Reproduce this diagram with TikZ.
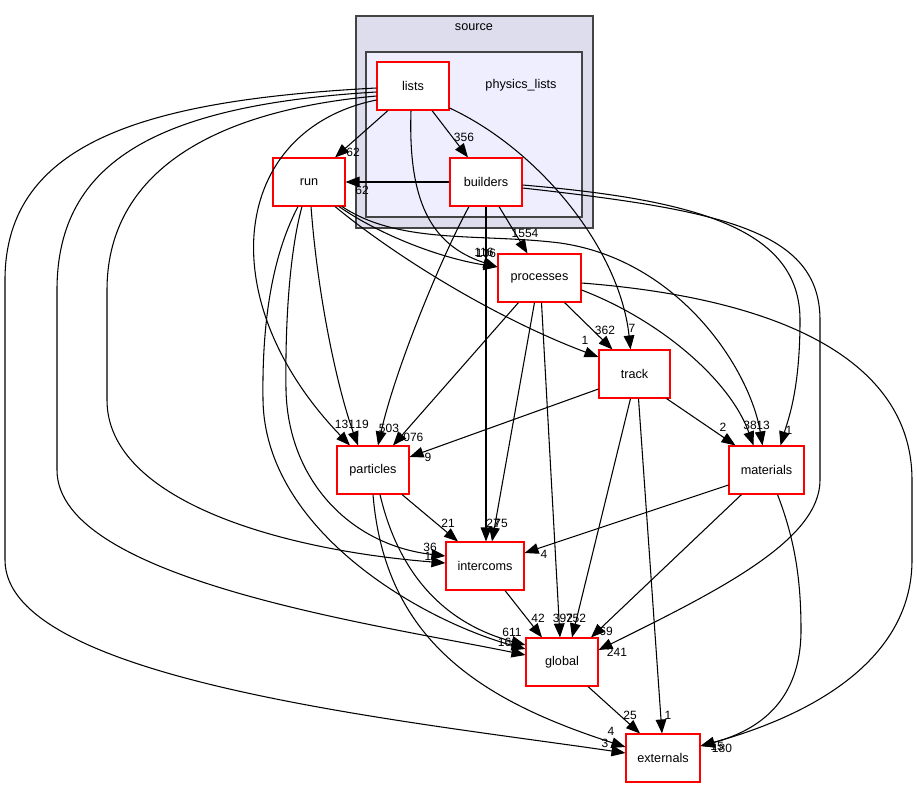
\documentclass[tikz,border=0pt]{standalone}
\usepackage{fontspec}
\setmainfont{Liberation Sans}
\usetikzlibrary{arrows.meta,calc}
\definecolor{srcfill}{RGB}{221,221,238}
\definecolor{plfill}{RGB}{238,238,255}
\definecolor{clborder}{RGB}{68,68,68}
\begin{document}
\begin{tikzpicture}[x=0.75pt,y=-0.75pt,
  dirbox/.style={draw=red, fill=white, line width=0.8pt, minimum height=36pt, minimum width=54pt, inner sep=0pt, font=\fontsize{9.5}{11}\selectfont},
  cl/.style={draw=clborder, line width=1.4pt},
  cltext/.style={inner sep=0pt, font=\fontsize{9.5}{11}\selectfont},
  e/.style={draw=black, line width=0.8pt, -{Triangle[length=10.5pt,width=8pt]}},
  lab/.style={inner sep=0pt, font=\fontsize{9}{10}\selectfont}]
\useasboundingbox (0,0) rectangle (917,788);
\fill[white] (0,0) rectangle (917,788);
% clusters
\draw[cl, fill=srcfill] (356,16) rectangle (593,228);
\node[cltext] (srclab) at (474,27) {source};
\draw[cl, fill=plfill] (366,52) rectangle (582,217);
\node[cltext] (pllab) at (521,85) {physics\_lists};
% nodes
\node[dirbox] (lists) at (413,86) {lists};
\node[dirbox] (builders) at (486,182) {builders};
\node[dirbox] (run) at (309,182) {run};
\node[dirbox, minimum width=62.25pt] (processes) at (539.5,278) {processes};
\node[dirbox, minimum width=53.25pt] (track) at (634.5,374) {track};
\node[dirbox] (particles) at (373,470) {particles};
\node[dirbox, minimum width=56.25pt] (materials) at (766.5,470) {materials};
\node[dirbox, minimum width=58.5pt] (intercoms) at (485,566) {intercoms};
\node[dirbox] (global) at (562,662) {global};
\node[dirbox, minimum width=55.5pt] (externals) at (663,758) {externals};
% lists
\draw[e] ($(lists.south)+(-25,0)$) -- ($(run.north)+(26,0)$);
\draw[e] ($(lists.south)+(19,0)$) -- ($(builders.north)+(-18,0)$);
\draw[e] ($(lists.south)+(-2,0)$) .. controls (408,200) and (430,245) .. ($(processes.west)+(0,-11)$);
\draw[e] ($(lists.east)+(0,22)$) .. controls (540,150) and (620,250) .. ($(track.north)+(-4,0)$);
\draw[e] ($(lists.west)+(0,2)$) .. controls (150,100) and (5,140) .. (5,280) -- (5,560) .. controls (5,680) and (400,720) .. ($(externals.west)+(0,-5)$);
\draw[e] ($(lists.west)+(0,6)$) .. controls (160,105) and (57,160) .. (57,290) -- (57,470) .. controls (57,580) and (380,625) .. ($(global.west)+(0,-7)$);
\draw[e] ($(lists.west)+(0,10)$) .. controls (200,112) and (107,180) .. (107,290) -- (107,400) .. controls (107,500) and (280,550) .. ($(intercoms.west)+(0,-3)$);
\draw[e] ($(lists.west)+(0,14)$) .. controls (230,130) and (210,300) .. ($(particles.north)+(-23,0)$);
% builders
\draw[e] (builders.west) -- (run.east);
\draw[e] ($(builders.south)+(13,0)$) -- ($(processes.north)+(-12,0)$);
\draw[e] ($(builders.south)+(-17,0)$) .. controls (440,260) and (395,370) .. ($(particles.north)+(5,0)$);
\draw[e] (builders.south) -- ($(intercoms.north)+(1,0)$);
\draw[e] ($(builders.east)+(0,3)$) .. controls (700,200) and (800,230) .. (800,320) .. controls (800,390) and (788,420) .. ($(materials.north)+(14,0)$);
\draw[e] ($(builders.east)+(0,6)$) .. controls (720,210) and (820,230) .. (820,320) -- (820,480) .. controls (820,540) and (720,590) .. ($(global.east)+(0,-12)$);
% run
\draw[e] ($(run.south)+(30,0)$) .. controls (380,235) and (440,258) .. ($(processes.west)+(0,-11)$);
\draw[e] ($(run.south)+(26,0)$) .. controls (400,260) and (500,320) .. ($(track.west)+(0,-17)$);
\draw[e] ($(run.south)+(33,0)$) .. controls (400,245) and (480,233) .. (560,243) .. controls (680,260) and (750,370) .. ($(materials.north)+(-4,0)$);
\draw[e] ($(run.south)+(2,0)$) .. controls (318,300) and (338,390) .. ($(particles.north)+(-15,0)$);
\draw[e] ($(run.south)+(-7,0)$) .. controls (290,250) and (285,320) .. (286,390) .. controls (288,480) and (350,545) .. ($(intercoms.west)+(0,-10)$);
\draw[e] ($(run.south)+(-11,0)$) .. controls (270,260) and (262,330) .. (263,400) .. controls (265,530) and (420,620) .. ($(global.west)+(0,-13)$);
% processes
\draw[e] ($(processes.south)+(25,0)$) -- ($(track.north)+(-22,0)$);
\draw[e] ($(processes.east)+(0,12)$) .. controls (660,320) and (730,380) .. ($(materials.north)+(-13,0)$);
\draw[e] ($(processes.east)+(0,5)$) .. controls (800,300) and (912,370) .. (912,480) -- (912,560) .. controls (912,650) and (830,710) .. ($(externals.east)+(0,-12)$);
\draw[e] ($(processes.south)+(-21,0)$) -- ($(particles.north)+(20,0)$);
\draw[e] ($(processes.south)+(-5,0)$) -- ($(intercoms.north)+(7,0)$);
\draw[e] ($(processes.south)+(2,0)$) -- ($(global.north)+(-2,0)$);
% track
\draw[e] ($(track.west)+(0,15)$) -- ($(particles.east)+(0,-13)$);
\draw[e] ($(track.south)+(32,0)$) -- ($(materials.north)+(-31,0)$);
\draw[e] ($(track.south)+(-4,0)$) -- ($(global.north)+(10,0)$);
\draw[e] ($(track.south)+(4,0)$) -- ($(externals.north)+(-1,0)$);
% materials
\draw[e] ($(materials.west)+(0,15)$) -- ($(intercoms.east)+(0,-13)$);
\draw[e] ($(materials.south)+(-25,0)$) -- ($(global.north)+(29,0)$);
\draw[e] ($(materials.south)+(11,0)$) .. controls (795,540) and (801,580) .. (801,630) .. controls (801,700) and (760,730) .. ($(externals.east)+(0,-12)$);
% particles
\draw[e] ($(particles.south)+(29,0)$) -- ($(intercoms.north)+(-27,0)$);
\draw[e] ($(particles.south)+(7,0)$) .. controls (400,580) and (450,625) .. ($(global.west)+(0,-17)$);
\draw[e] (particles.south) .. controls (385,640) and (480,700) .. ($(externals.west)+(0,-11)$);
% intercoms, global
\draw[e] ($(intercoms.south)+(20,0)$) -- ($(global.north)+(-20,0)$);
\draw[e] ($(global.south)+(26,0)$) -- ($(externals.north)+(-23,0)$);
% labels
\node[lab] (l1) at (353,152) {62};
\node[lab] (l2) at (464,137) {356};
\node[lab] (l3) at (362,190) {62};
\node[lab] (l4) at (484,252) {116};
\node[lab] (l5) at (486,253) {106};
\node[lab] (l6) at (525,233) {1554};
\node[lab] (l7) at (605,330) {362};
\node[lab] (l8) at (632,328) {7};
\node[lab] (l9) at (585,340) {1};
\node[lab] (l10) at (345,424) {131};
\node[lab] (l11) at (362,424) {19};
\node[lab] (l12) at (389,428) {503};
\node[lab] (l13) at (410,437) {1076};
\node[lab] (l14) at (428,457) {9};
\node[lab] (l15) at (723,427) {2};
\node[lab] (l16) at (750,425) {38};
\node[lab] (l17) at (763,425) {13};
\node[lab] (l18) at (789,430) {1};
\node[lab] (l19) at (448,523) {21};
\node[lab] (l20) at (493,523) {27};
\node[lab] (l21) at (501,523) {75};
\node[lab] (l22) at (430,547) {36};
\node[lab] (l23) at (428,556) {1};
\node[lab] (l24) at (544,554) {4};
\node[lab] (l25) at (538,618) {42};
\node[lab] (l26) at (563,618) {392};
\node[lab] (l27) at (576,618) {752};
\node[lab] (l28) at (606,631) {69};
\node[lab] (l29) at (617,652) {241};
\node[lab] (l30) at (512,632) {611};
\node[lab] (l31) at (508,642) {161};
\node[lab] (l32) at (630,715) {25};
\node[lab] (l33) at (668,715) {1};
\node[lab] (l34) at (611,731) {4};
\node[lab] (l35) at (605,743) {3};
\node[lab] (l36) at (717,746) {15};
\node[lab] (l37) at (722,748) {180};
\end{tikzpicture}
\end{document}
